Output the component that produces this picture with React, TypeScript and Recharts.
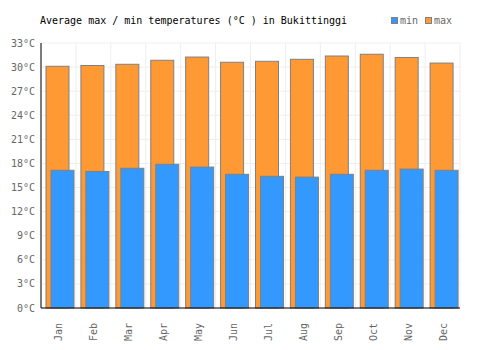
import { Bar, BarChart, CartesianGrid, XAxis, YAxis } from "recharts";

const MONTHS = ["Jan", "Feb", "Mar", "Apr", "May", "Jun", "Jul", "Aug", "Sep", "Oct", "Nov", "Dec"];
const MIN_TEMPS = [17.15, 17.0, 17.4, 17.9, 17.55, 16.65, 16.4, 16.3, 16.65, 17.15, 17.3, 17.15];
const MAX_TEMPS = [30.1, 30.2, 30.35, 30.85, 31.25, 30.6, 30.72, 30.97, 31.38, 31.6, 31.2, 30.5];
const Y_TICKS = [0, 3, 6, 9, 12, 15, 18, 21, 24, 27, 30, 33];

const data = MONTHS.map((month, i) => ({ month, min: MIN_TEMPS[i], max: MAX_TEMPS[i] }));

const FONT = "'DejaVu Sans Mono', monospace";
const SHIFT = 2;

function ShiftedBar(props: any) {
  const { x, y, width, height, fill } = props;
  if (!height || height <= 0) return null;
  return (
    <rect x={x + SHIFT} y={y} width={width} height={height} fill={fill} stroke="#808080" strokeWidth={1} />
  );
}

function MonthTick(props: any) {
  const { x, y, payload } = props;
  return (
    <text
      x={0}
      y={0}
      transform={`translate(${x + 4},${y + 7}) rotate(-90)`}
      textAnchor="end"
      fontFamily={FONT}
      fontSize={10}
      fill="#666"
    >
      {payload.value}
    </text>
  );
}

function LegendItem({ color, label }: { color: string; label: string }) {
  return (
    <span style={{ display: "inline-flex", alignItems: "center", marginLeft: 7 }}>
      <span style={{ width: 5, height: 5, background: color, border: "1px solid #808080", marginRight: 2 }} />
      <span style={{ color: "#666" }}>{label}</span>
    </span>
  );
}

export default function App() {
  return (
    <div style={{ position: "absolute", left: 0, top: 0, width: 500, height: 350, background: "#fff", fontFamily: FONT, fontSize: 10 }}>
      <div style={{ position: "absolute", left: 40, top: 15, color: "#000", whiteSpace: "pre" }}>
        Average max / min temperatures (°C ) in Bukittinggi
      </div>
      <div style={{ position: "absolute", left: 384, top: 15, display: "flex" }}>
        <LegendItem color="#3399ff" label="min" />
        <LegendItem color="#ff9933" label="max" />
      </div>
      <BarChart
        width={500}
        height={350}
        data={data}
        margin={{ top: 43, right: 40, bottom: 0, left: 0 }}
        barSize={23}
        barGap={-18}
      >
        <CartesianGrid
          stroke="#eeeeee"
          verticalCoordinatesGenerator={({ offset }: any) =>
            Array.from({ length: MONTHS.length + 1 }, (_, i) => offset.left + (offset.width * i) / MONTHS.length)
          }
        />
        <XAxis
          dataKey="month"
          height={42}
          interval={0}
          tickLine={false}
          axisLine={{ stroke: "#000" }}
          tick={<MonthTick />}
        />
        <YAxis
          width={41}
          domain={[0, 33]}
          ticks={Y_TICKS}
          interval={0}
          tickLine={false}
          tickSize={0}
          tickMargin={6}
          axisLine={{ stroke: "#000" }}
          tickFormatter={(v: number) => `${v}°C`}
          tick={{ fontFamily: FONT, fontSize: 10, fill: "#666" }}
        />
        <Bar dataKey="max" fill="#ff9933" shape={<ShiftedBar />} isAnimationActive={false} />
        <Bar dataKey="min" fill="#3399ff" shape={<ShiftedBar />} isAnimationActive={false} />
      </BarChart>
    </div>
  );
}
